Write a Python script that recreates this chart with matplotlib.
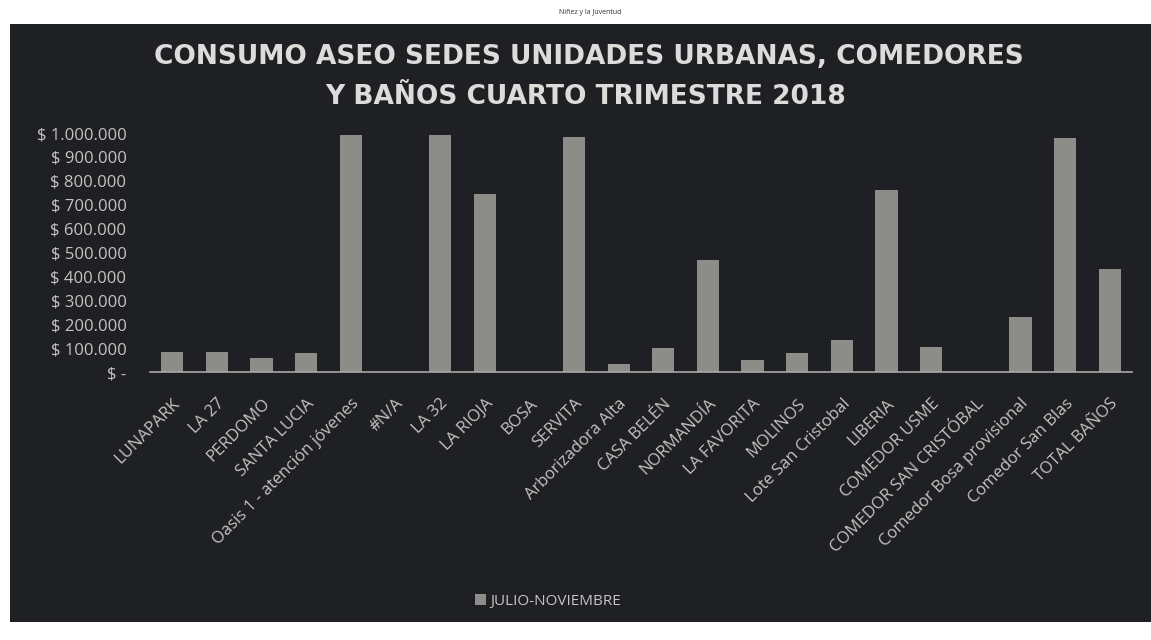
import matplotlib.pyplot as plt
from matplotlib.ticker import FuncFormatter

sedes = [
    "LUNAPARK", "LA 27", "PERDOMO", "SANTA LUCIA", "Oasis 1 - atención jóvenes",
    "#N/A", "LA 32", "LA RIOJA", "BOSA", "SERVITA", "Arborizadora Alta",
    "CASA BELÉN", "NORMANDÍA", "LA FAVORITA", "MOLINOS", "Lote San Cristobal",
    "LIBERIA", "COMEDOR USME", "COMEDOR SAN CRISTÓBAL", "Comedor Bosa provisional",
    "Comedor San Blas", "TOTAL BAÑOS",
]
julio_noviembre = [
    85000, 85000, 57000, 78000, 990000,
    0, 990000, 745000, 0, 985000, 33000,
    100000, 470000, 50000, 80000, 135000,
    760000, 105000, 0, 230000,
    980000, 430000,
]
yticks = [0, 100000, 200000, 300000, 400000, 500000, 600000, 700000, 800000, 900000, 1000000]

fondo = "#1e2023"
texto = "#c4c4c0"
barra = "#8c8d89"

plt.rcParams["font.family"] = ["Open Sans", "DejaVu Sans"]

W, H = 1151, 640
fig = plt.figure(figsize=(W / 100, H / 100), dpi=100, facecolor="white")

# fondo oscuro del grafico (la foto tiene bordes blancos)
bg = fig.add_axes([10 / W, 1 - 622 / H, 1 - 10 / W, (622 - 24) / H], zorder=-1)
bg.set_facecolor(fondo)
bg.set_xticks([])
bg.set_yticks([])
for s in bg.spines.values():
    s.set_visible(False)

fig.text(590 / W, 1 - 12 / H, "Niñez y la Juventud", ha="center", va="center",
         fontsize=5, color="#333333")

ax = fig.add_axes([150 / W, 1 - 372 / H, (1132 - 150) / W, (372 - 133) / H], zorder=1)
ax.set_facecolor("none")

x = range(len(sedes))
ax.bar(x, julio_noviembre, width=0.5, color=barra, label="JULIO-NOVIEMBRE", zorder=2)

ax.set_xlim(-0.5, len(sedes) - 0.5)
ax.set_ylim(0, 1000000)
ax.set_yticks(yticks)


def pesos(v, pos):
    if v == 0:
        return "$ -"
    return "$ " + f"{int(v):,}".replace(",", ".")


ax.yaxis.set_major_formatter(FuncFormatter(pesos))
ax.tick_params(axis="y", length=0, labelsize=12, labelcolor=texto, pad=17)
ax.set_xticks(list(x))
ax.set_xticklabels(sedes, rotation=45, ha="right", rotation_mode="anchor")
ax.tick_params(axis="x", length=0, labelsize=12, labelcolor=texto, pad=17)

for lado in ["top", "right", "left"]:
    ax.spines[lado].set_visible(False)
ax.spines["bottom"].set_color("#a8a8a4")
ax.spines["bottom"].set_linewidth(1.2)

titulo = dict(ha="center", va="center", fontsize=19, fontweight="bold",
              color="#dcdcda", family="DejaVu Sans")
fig.text(589 / W, 1 - 57 / H, "CONSUMO ASEO SEDES UNIDADES URBANAS, COMEDORES", **titulo)
fig.text(586 / W, 1 - 97 / H, "Y BAÑOS CUARTO TRIMESTRE 2018", **titulo)

leg = fig.legend(loc="center", bbox_to_anchor=(548 / W, 1 - 601 / H), frameon=False,
                 fontsize=11, handlelength=0.7, handleheight=0.7, handletextpad=0.3)
for t in leg.get_texts():
    t.set_color(texto)

fig.savefig("out.png", dpi=100, facecolor="white")
